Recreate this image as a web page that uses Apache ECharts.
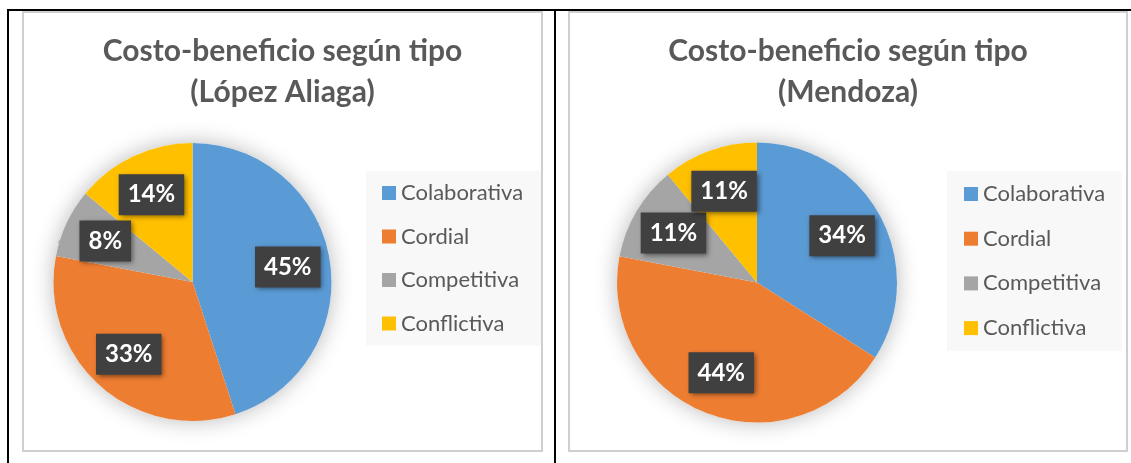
<!DOCTYPE html>
<html>
<head>
<meta charset="utf-8">
<script src="https://cdn.jsdelivr.net/npm/echarts@6/dist/echarts.min.js"></script>
<style>
  html, body { margin: 0; padding: 0; background: #fff; width: 1131px; height: 463px; overflow: hidden; }
  .ln { position: absolute; background: #000; }
  .panel { position: absolute; box-sizing: border-box; border: 2px solid #cfcfcf; background: #fff; }
  .chart { width: 100%; height: 100%; }
</style>
</head>
<body>
<div class="ln" style="left:7px;top:9px;width:1124px;height:2px;"></div>
<div class="ln" style="left:7px;top:9px;width:2px;height:454px;"></div>
<div class="ln" style="left:554px;top:9px;width:2px;height:454px;"></div>
<div class="panel" style="left:22px;top:11px;width:521px;height:441px;"><div id="c1" class="chart"></div></div>
<div class="panel" style="left:568px;top:11px;width:560px;height:441px;"><div id="c2" class="chart"></div></div>
<script>
// ---- data ----
const categories = ['Colaborativa', 'Cordial', 'Competitiva', 'Conflictiva'];
const valuesLopez = [45, 33, 8, 14];
const valuesMendoza = [34, 44, 11, 11];
const titleLopez = 'Costo-beneficio según tipo\n(López Aliaga)';
const titleMendoza = 'Costo-beneficio según tipo\n(Mendoza)';
const colors = ['#5B9BD5', '#ED7D31', '#A5A5A5', '#FFC000'];

const FONT = 'Lato, "Open Sans", sans-serif';

function makeOption(cfg) {
  const cx = cfg.center[0], cy = cfg.center[1];
  return {
    animation: false,
    color: colors,
    title: {
      text: cfg.title,
      left: 'center',
      top: cfg.titleTop,
      padding: cfg.titlePad,
      textStyle: { fontFamily: FONT, fontWeight: 'bold', fontSize: 30, color: '#595959', lineHeight: 41 }
    },
    legend: {
      orient: 'vertical',
      left: cfg.legendPos[0],
      top: cfg.legendPos[1],
      data: categories,
      icon: 'rect',
      itemWidth: 14,
      itemHeight: 14,
      itemGap: cfg.legendGap,
      backgroundColor: '#f8f8f8',
      padding: cfg.legendPad,
      selectedMode: false,
      textStyle: { fontFamily: FONT, fontSize: 22, color: '#595959', lineHeight: 22 }
    },
    series: [
      {
        type: 'pie',
        silent: true,
        center: cfg.center,
        radius: cfg.radius,
        z: 1,
        label: { show: false },
        labelLine: { show: false },
        data: [{ value: cfg.values.reduce((a, b) => a + b, 0), name: '_bg' }],
        itemStyle: { color: '#ffffff', shadowBlur: 22, shadowColor: 'rgba(0,0,0,0.28)' }
      },
      {
        type: 'pie',
        center: cfg.center,
        radius: cfg.radius,
        startAngle: 90,
        clockwise: true,
        z: 2,
        data: categories.map((c, i) => ({ name: c, value: cfg.values[i] })),
        itemStyle: { borderWidth: 0 },
        emphasis: { disabled: true },
        label: {
          show: true,
          position: 'inside',
          formatter: '{c}%',
          fontFamily: FONT,
          fontWeight: 'bold',
          fontSize: 24,
          lineHeight: 24,
          color: '#ffffff',
          backgroundColor: '#404040',
          padding: [9, 9, 8, 9],
          shadowBlur: 5,
          shadowOffsetX: 2,
          shadowOffsetY: 2,
          shadowColor: 'rgba(0,0,0,0.5)'
        },
        labelLayout: function (p) {
          const r = p.labelRect;
          const lx = r.x + r.width / 2, ly = r.y + r.height / 2;
          const k = 1.33;
          return { x: cx + (lx - cx) * k, y: cy + (ly - cy) * k };
        }
      }
    ]
  };
}

const ch1 = echarts.init(document.getElementById('c1'), null, { renderer: 'canvas' });
ch1.setOption(makeOption({
  title: titleLopez, titleTop: 18, titlePad: [0, 0, 0, 13],
  center: [168.5, 269], radius: 139, values: valuesLopez,
  legendPos: [342, 158], legendGap: 21.5, legendPad: [11, 18, 11, 16]
}));
const ch2 = echarts.init(document.getElementById('c2'), null, { renderer: 'canvas' });
ch2.setOption(makeOption({
  title: titleMendoza, titleTop: 18, titlePad: [0, 0, 0, 0],
  center: [187, 269.5], radius: 140, values: valuesMendoza,
  legendPos: [377, 158], legendGap: 22.7, legendPad: [12, 17, 12, 17]
}));
</script>
</body>
</html>
